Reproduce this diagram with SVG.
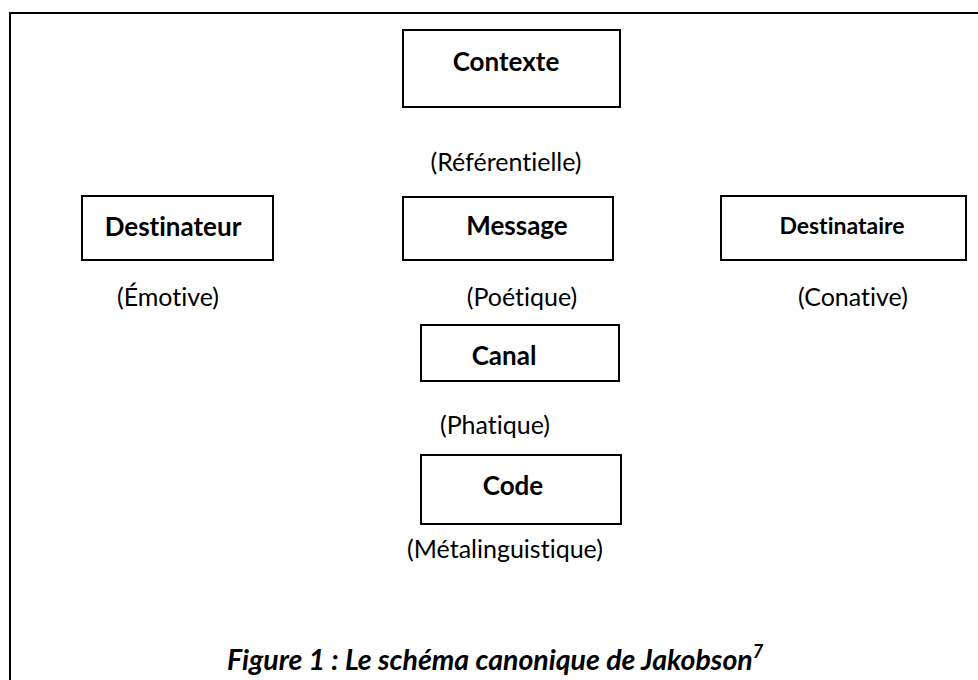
<svg xmlns="http://www.w3.org/2000/svg" width="978" height="680" viewBox="0 0 978 680">
  <style>
    text { font-variant-ligatures: none; }
    .box { fill: #ffffff; stroke: #000000; stroke-width: 2; }
    .frame { fill: none; stroke: #000000; stroke-width: 2; }
    .title { font-family: Lato, "Open Sans", "Liberation Sans", sans-serif; font-weight: bold; fill: #000000; text-anchor: middle; }
    .role { font-family: Lato, "Open Sans", "Liberation Sans", sans-serif; font-size: 25px; fill: #000000; text-anchor: middle; }
    .caption { font-family: Lato, "Open Sans", "Liberation Sans", sans-serif; font-size: 28.5px; font-weight: bold; font-style: italic; fill: #000000; }
  </style>
  <rect width="978" height="680" fill="#ffffff"/>

  <!-- outer frame, runs past the right and bottom edges -->
  <path class="frame" d="M10,700 V13 H1000"/>

  <g id="contexte">
    <rect class="box" x="403" y="30" width="217" height="77"/>
    <text class="title" x="506" y="71" font-size="26">Contexte</text>
    <text class="role" x="506" y="171">(Référentielle)</text>
  </g>

  <g id="destinateur">
    <rect class="box" x="82" y="196" width="191" height="64"/>
    <text class="title" x="173" y="236" font-size="26">Destinateur</text>
    <text class="role" x="168" y="306">(Émotive)</text>
  </g>

  <g id="message">
    <rect class="box" x="403" y="197" width="210" height="63"/>
    <text class="title" x="517" y="235" font-size="26">Message</text>
    <text class="role" x="522" y="306">(Poétique)</text>
  </g>

  <g id="destinataire">
    <rect class="box" x="721" y="196" width="245" height="64"/>
    <text class="title" x="842" y="234" font-size="23">Destinataire</text>
    <text class="role" x="853" y="306">(Conative)</text>
  </g>

  <g id="canal">
    <rect class="box" x="421" y="325" width="198" height="56"/>
    <text class="title" x="504" y="365" font-size="26">Canal</text>
    <text class="role" x="495" y="434">(Phatique)</text>
  </g>

  <g id="code">
    <rect class="box" x="421" y="455" width="200" height="69"/>
    <text class="title" x="513" y="495" font-size="26">Code</text>
    <text class="role" x="505" y="558">(Métalinguistique)</text>
  </g>

  <g id="connectors"></g>

  <text class="caption" x="227" y="670">Figure 1 : Le schéma canonique de Jakobson<tspan font-size="18" dy="-12">7</tspan></text>
</svg>
